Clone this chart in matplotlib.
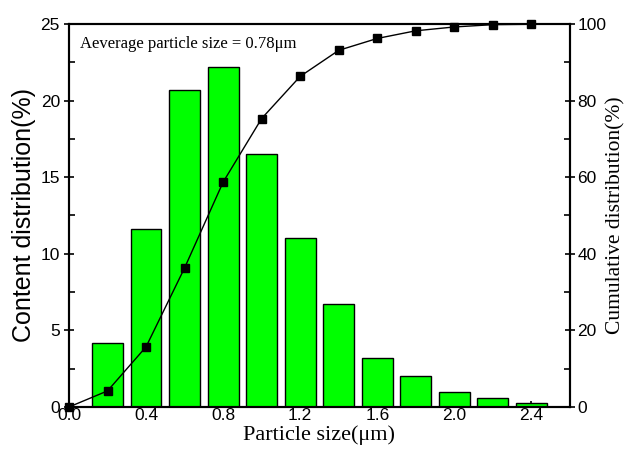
import numpy as np
import matplotlib
matplotlib.use("Agg")
import matplotlib.pyplot as plt
from matplotlib.ticker import MultipleLocator

# particle size classes (um) and their content (%)
sizes = [0.2, 0.4, 0.6, 0.8, 1.0, 1.2, 1.4, 1.6, 1.8, 2.0, 2.2, 2.4]
content = [4.2, 11.6, 20.7, 22.2, 16.5, 11.0, 6.7, 3.2, 2.0, 1.0, 0.6, 0.25]

# cumulative distribution (%), starting at size 0
cum_sizes = [0.0, 0.2, 0.4, 0.6, 0.8, 1.0, 1.2, 1.4, 1.6, 1.8, 2.0, 2.2, 2.4]
cumulative = [0.0, 4.2, 15.7, 36.3, 58.7, 75.3, 86.3, 93.1, 96.2, 98.2, 99.2, 99.8, 99.9]

serif = "Liberation Serif"
sans = "Liberation Sans"

fig = plt.figure(figsize=(6.27, 4.55), dpi=100)
ax1 = fig.add_axes([0.110, 0.1055, 0.799, 0.842])

# bars for content distribution
ax1.bar(sizes, content, width=0.16, color="#00ff00", edgecolor="black",
        linewidth=1.0, zorder=2)
ax1.set_xlim(0, 2.6)
ax1.set_ylim(0, 25)
ax1.xaxis.set_minor_locator(MultipleLocator(0.2))
ax1.yaxis.set_major_locator(MultipleLocator(5))
ax1.yaxis.set_minor_locator(MultipleLocator(2.5))
xt = np.arange(0, 2.41, 0.4)
ax1.set_xticks(xt)
ax1.set_xticklabels(["%.1f" % v for v in xt])

# twin axis for cumulative line
ax2 = ax1.twinx()
ax2.plot(cum_sizes, cumulative, color="black", linewidth=1.0, marker="s",
         markersize=6, zorder=3, clip_on=False)
ax2.set_ylim(0, 100)
ax2.yaxis.set_major_locator(MultipleLocator(20))
ax2.yaxis.set_minor_locator(MultipleLocator(10))

for ax in (ax1, ax2):
    for sp in ax.spines.values():
        sp.set_linewidth(1.5)

ax1.tick_params(axis="x", which="major", direction="in", length=4, width=1.2,
                labelsize=12.5, pad=1)
ax1.tick_params(axis="x", which="minor", direction="in", length=3, width=1.2)
ax1.tick_params(axis="y", which="major", direction="inout", length=7, width=1.2,
                labelsize=12.5, pad=3)
ax1.tick_params(axis="y", which="minor", direction="in", length=4, width=1.2)
ax2.tick_params(axis="y", which="major", direction="inout", length=7, width=1.2,
                labelsize=12.5, pad=2)
ax2.tick_params(axis="y", which="minor", direction="in", length=4, width=1.2)

for lab in ax1.get_xticklabels() + ax1.get_yticklabels() + ax2.get_yticklabels():
    lab.set_fontfamily(sans)

ax1.set_xlabel("Particle size(\u03bcm)", family=serif, fontsize=16, labelpad=1)
ax1.set_ylabel("Content distribution(%)", family=sans, fontsize=18, labelpad=3)
ax2.set_ylabel("Cumulative distribution(%)", family=serif, fontsize=15.5, labelpad=0)

# average size annotation
ax1.text(0.023, 0.947, "Aeverage particle size = 0.78\u03bcm", transform=ax1.transAxes,
         family=serif, fontsize=12, va="center", ha="left")

fig.savefig("out.png", dpi=100)
